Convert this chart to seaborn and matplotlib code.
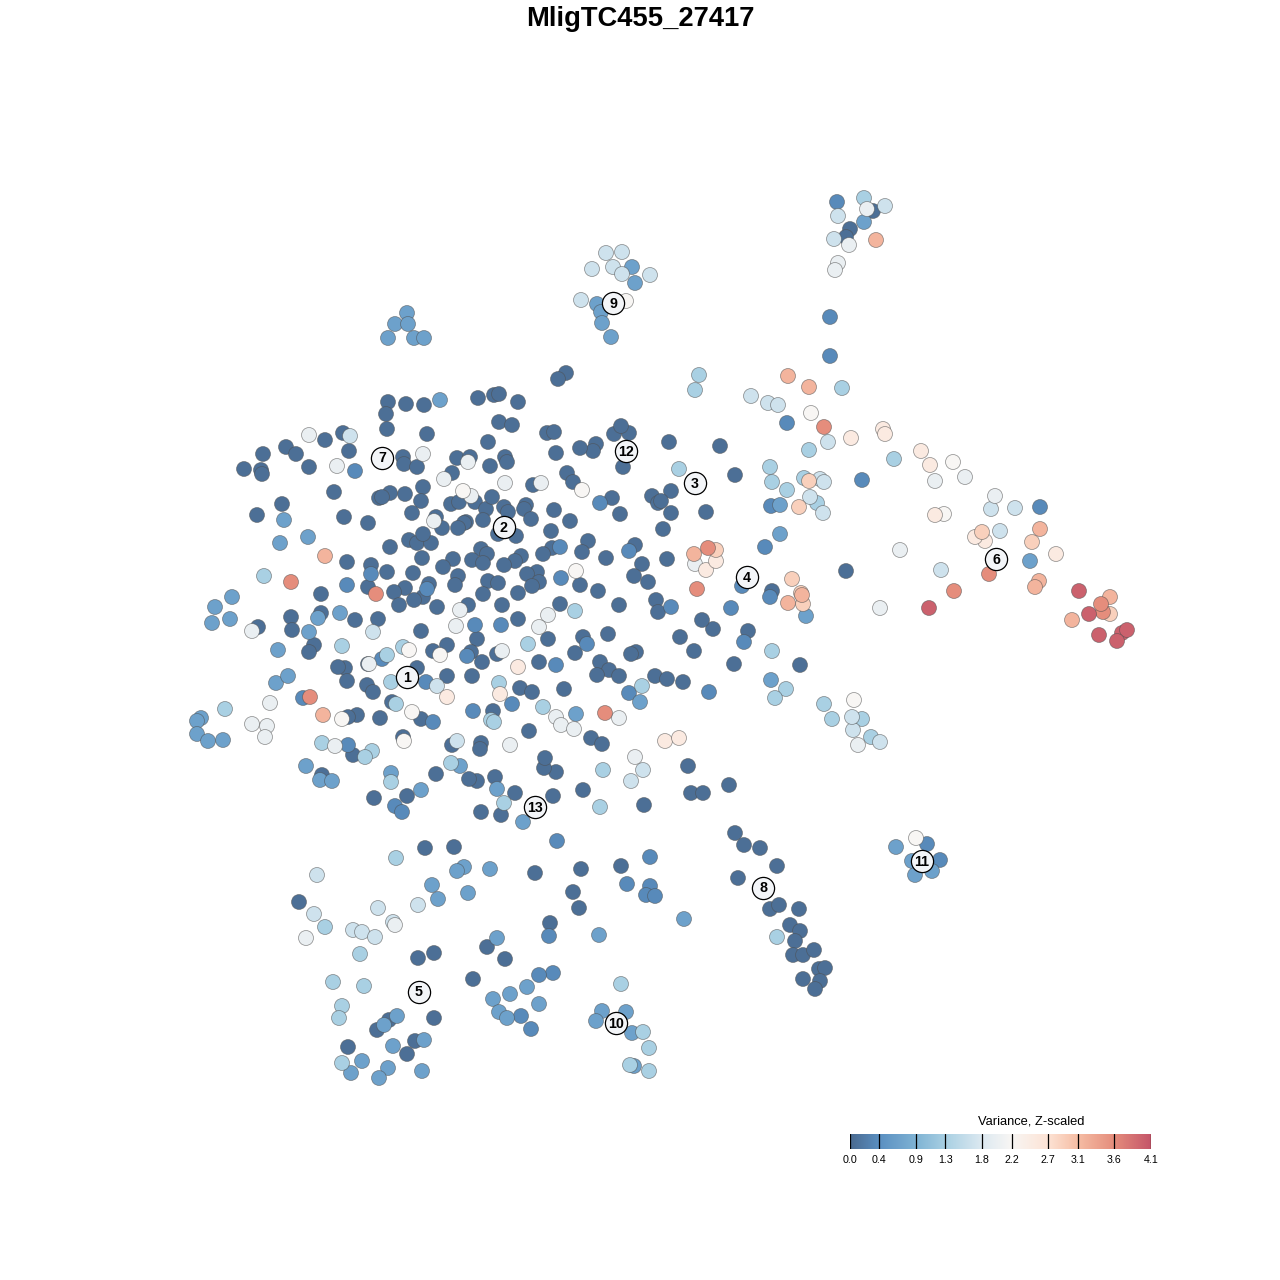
import numpy as np
import pandas as pd
import matplotlib
matplotlib.use("Agg")
import matplotlib.pyplot as plt
from matplotlib.colors import LinearSegmentedColormap, Normalize
import seaborn as sns

title = "MligTC455_27417"
legend_title = "Variance, Z-scaled"
tick_values = [0.0, 0.4, 0.9, 1.3, 1.8, 2.2, 2.7, 3.1, 3.6, 4.1]
cluster_ids = list(range(1, 14))
cluster_x = [407, 504, 695, 747, 419, 996, 382, 763, 613, 616, 922, 626, 535]
cluster_y = [677, 527, 483, 577, 992, 559, 458, 888, 303, 1023, 861, 451, 807]

z010 = [(873,211),(850,229),(846,237),(566,373),(558,379),(388,402),(406,404),(424,405),(478,398),(494,395),(499,394),(518,402),(386,414),(387,429),(499,422),(512,425),(427,434),(547,433),(554,432),(488,442),(629,433),(614,434),(621,426),(596,444),(593,451),(580,448),(669,442),(720,446),(343,433),(325,440),(286,447),(263,454),(296,454),(244,469),(261,470),(262,474),(309,467),(349,451),(403,457),(404,464),(417,467),(457,458),(470,457),(452,473),(505,457),(507,462),(490,466),(556,453),(623,467),(567,473),(573,482),(533,485),(735,475),(334,492),(423,487),(390,493),(379,498),(382,497),(405,494),(421,501),(282,504),(257,515),(344,517),(368,523),(412,513),(436,517),(442,528),(451,504),(459,502),(475,502),(486,509),(492,497),(504,507),(508,512),(526,505),(524,509),(531,519),(554,510),(570,521),(551,531),(483,520),(466,522),(464,523),(458,528),(516,536),(498,534),(588,541),(582,552),(552,548),(543,554),(606,558),(635,545),(642,564),(634,576),(648,582),(656,600),(658,612),(619,605),(598,591),(580,585),(537,572),(527,574),(539,582),(532,586),(518,593),(521,556),(515,561),(504,565),(481,549),(487,554),(472,560),(483,563),(453,559),(443,567),(458,576),(455,585),(488,581),(498,583),(483,594),(502,605),(518,619),(560,604),(468,605),(437,607),(429,584),(423,597),(414,600),(405,588),(394,592),(399,605),(409,540),(417,543),(431,543),(423,534),(390,547),(422,558),(413,573),(387,572),(371,565),(368,587),(347,562),(378,619),(355,620),(421,631),(477,639),(548,639),(583,637),(608,634),(575,653),(636,652),(631,654),(539,662),(600,662),(609,670),(597,675),(619,676),(655,676),(564,689),(520,688),(532,692),(497,654),(471,652),(482,662),(472,676),(447,676),(447,645),(433,651),(417,668),(368,664),(345,668),(338,667),(347,681),(367,685),(373,692),(652,496),(658,503),(612,498),(620,514),(671,491),(661,501),(706,512),(671,513),(663,529),(667,559),(291,617),(292,630),(321,594),(321,613),(258,627),(314,645),(309,652),(380,718),(357,715),(348,717),(392,702),(421,719),(403,737),(353,755),(322,775),(374,798),(407,796),(436,774),(477,781),(469,779),(495,777),(481,812),(501,815),(515,793),(553,796),(583,790),(644,805),(691,793),(703,793),(729,785),(688,766),(556,772),(544,768),(545,758),(529,731),(591,738),(602,744),(481,743),(480,749),(452,745),(493,711),(667,679),(683,682),(734,664),(748,631),(713,629),(702,620),(694,651),(680,637),(772,591),(846,571),(800,665),(425,848),(454,847),(535,873),(581,869),(621,866),(573,892),(579,908),(550,923),(487,947),(505,959),(473,979),(299,902),(434,953),(418,958),(434,1018),(389,1020),(377,1030),(348,1047),(415,1041),(407,1054),(735,833),(744,845),(760,848),(777,866),(738,878),(770,909),(779,905),(799,909),(790,925),(800,931),(795,941),(793,955),(803,955),(814,950),(819,969),(825,968),(803,979),(820,981),(815,989)]
z035 = [(837,202),(355,471),(371,574),(427,589),(629,551),(561,578),(475,625),(501,625),(587,644),(467,656),(556,665),(382,659),(426,682),(600,503),(347,585),(560,547),(473,711),(512,704),(629,693),(709,692),(744,642),(731,608),(742,586),(770,597),(765,547),(862,480),(771,506),(671,607),(787,423),(1040,507),(830,356),(830,317),(303,698),(395,806),(402,812),(433,722),(348,745),(557,841),(650,857),(627,884),(650,886),(646,895),(655,896),(549,936),(553,973),(539,975),(531,1029),(521,1016),(940,860),(927,844)]
z065 = [(864,222),(632,267),(635,283),(597,304),(601,312),(602,323),(611,337),(407,313),(395,324),(408,324),(388,338),(414,338),(424,338),(440,400),(284,520),(280,543),(308,537),(232,597),(215,607),(212,623),(230,619),(318,618),(340,613),(309,632),(278,650),(276,683),(288,676),(201,718),(197,721),(197,734),(208,741),(223,740),(306,766),(320,780),(332,781),(391,773),(421,790),(460,766),(576,714),(640,702),(497,789),(523,822),(771,680),(780,534),(780,505),(806,616),(1030,561),(464,867),(457,871),(490,869),(684,919),(599,935),(497,938),(527,987),(510,994),(493,999),(539,1004),(499,1012),(507,1018),(602,1011),(626,1012),(596,1021),(632,1033),(634,1066),(432,885),(468,893),(438,899),(397,1016),(384,1025),(393,1046),(424,1040),(362,1061),(388,1068),(351,1073),(379,1078),(422,1071),(896,847),(912,861),(915,875),(932,871)]
z130 = [(575,611),(528,644),(499,683),(387,655),(391,682),(342,646),(642,686),(403,647),(699,375),(695,390),(809,450),(894,459),(770,467),(772,482),(787,490),(804,478),(817,503),(679,469),(772,651),(786,689),(775,698),(824,704),(832,719),(862,719),(871,737),(603,770),(600,807),(225,709),(264,576),(322,743),(372,751),(365,757),(391,782),(451,763),(491,720),(494,722),(543,707),(396,704),(504,803),(396,858),(777,937),(325,927),(360,954),(333,982),(364,986),(342,1006),(339,1018),(342,1063),(621,984),(643,1032),(649,1048),(630,1065),(649,1071),(842,388),(864,198)]
z165 = [(350,436),(838,216),(885,206),(834,239),(606,253),(622,252),(613,267),(622,274),(650,275),(592,269),(581,300),(751,396),(768,403),(778,405),(828,442),(810,497),(823,513),(820,479),(824,482),(373,632),(437,686),(880,742),(853,730),(852,717),(643,770),(631,781),(457,741),(353,930),(362,932),(375,937),(378,908),(393,922),(314,914),(317,875),(991,509),(1015,508),(941,570),(1000,531),(418,905)]
z200 = [(867,209),(849,245),(838,263),(835,270),(423,454),(468,462),(444,479),(505,483),(541,483),(471,496),(434,521),(460,610),(456,626),(548,615),(539,627),(502,651),(309,435),(337,466),(252,631),(369,664),(270,703),(252,724),(267,726),(265,737),(335,746),(510,745),(556,717),(561,725),(574,729),(619,718),(635,757),(858,745),(306,938),(395,925),(695,564),(995,496),(935,481),(900,550),(880,608),(965,477)]
z220 = [(626,301),(811,413),(582,490),(463,491),(576,571),(409,650),(440,655),(342,719),(412,712),(404,741),(854,700),(953,462),(916,838),(944,514)]
z250 = [(851,438),(883,429),(885,434),(921,451),(930,465),(518,667),(500,694),(447,697),(665,741),(679,738),(706,570),(716,561),(985,541),(975,537),(935,515),(1056,554)]
z290 = [(982,532),(1032,542),(716,550),(792,579),(801,593),(803,604),(809,481),(799,507),(1110,614)]
z320 = [(876,240),(788,376),(809,387),(694,554),(788,603),(802,595),(1040,529),(1039,581),(1110,597),(1072,620),(323,715),(325,556),(1035,587)]
z360 = [(708,548),(697,589),(376,594),(310,697),(605,713),(291,582),(824,427),(954,591),(989,574),(1103,612),(1101,604)]
z400 = [(929,608),(1079,591),(1089,614),(1099,635),(1122,633),(1127,630),(1117,641)]

level_values = [0.05, 0.35, 0.65, 1.3, 1.65, 2.0, 2.2, 2.5, 2.9, 3.2, 3.6, 4.0]
level_points = [z010, z035, z065, z130, z165, z200, z220, z250, z290, z320, z360, z400]

rows = [(px, py, v) for v, pts in zip(level_values, level_points) for px, py in pts]
df = pd.DataFrame(rows, columns=["x", "y", "z"]).sort_values("z", kind="stable")

cmap = LinearSegmentedColormap.from_list("var", [
    (0.0, "#4a6a90"), (0.4/4.1, "#5b90c2"), (0.9/4.1, "#7fb3d4"), (1.3/4.1, "#a9d0e3"),
    (1.8/4.1, "#dde9f1"), (2.2/4.1, "#f8f6f4"), (2.7/4.1, "#fde3d5"), (3.1/4.1, "#f6bea5"),
    (3.6/4.1, "#e58d7c"), (1.0, "#c5566a")])
norm = Normalize(0, 4.1)

sns.set_theme(style="white")
plt.rcParams["font.family"] = ["Liberation Sans", "DejaVu Sans"]
fig = plt.figure(figsize=(12.8, 12.8), dpi=100, facecolor="white")
ax = fig.add_axes([0, 0, 1, 1])

sns.scatterplot(data=df, x="x", y="y", hue="z", palette=cmap, hue_norm=norm, s=116,
                edgecolor=(0.3, 0.3, 0.3, 0.55), linewidth=0.6, legend=False, ax=ax, zorder=2)
ax.set_xlim(0, 1280)
ax.set_ylim(1280, 0)
ax.axis("off")

ax.scatter(cluster_x, cluster_y, s=255, facecolor="#f3f5f8", edgecolor="black", linewidth=0.9, zorder=3)
for cid, cx, cy in zip(cluster_ids, cluster_x, cluster_y):
    ax.text(cx, cy + 0.5, str(cid), ha="center", va="center", fontsize=10.3, fontweight="bold",
            color="black", zorder=4)

ax.text(640, 19, title, ha="center", va="center", fontsize=19.7, fontweight="bold", color="black")

cax = fig.add_axes([850/1280, 1 - 1149/1280, 301/1280, 15/1280])
grad = np.linspace(0, 4.1, 512).reshape(1, -1)
cax.imshow(grad, extent=[0, 4.1, 0, 1], aspect="auto", cmap=cmap, norm=norm)
cax.set_xlim(0, 4.1)
cax.set_yticks([])
cax.set_xticks(tick_values)
cax.set_xticklabels([f"{t:.1f}" for t in tick_values], fontsize=7.7, color="black")
cax.tick_params(axis="x", length=0, pad=4, bottom=False)
for t in tick_values:
    cax.axvline(t, color="black", linewidth=0.9)
for s in cax.spines.values():
    s.set_visible(False)
ax.text(1031, 1122, legend_title, ha="center", va="center", fontsize=9.3, color="black")

fig.savefig("out.png", dpi=100, facecolor="white")
